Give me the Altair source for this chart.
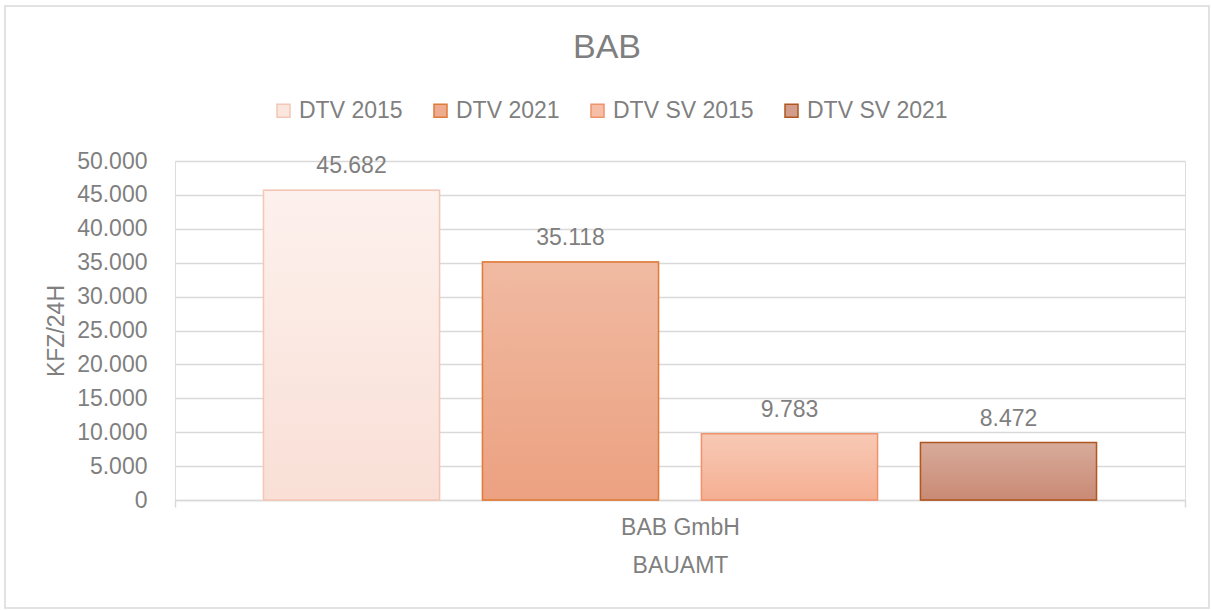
import altair as alt
import pandas as pd

# ---- data ----
series = ["DTV 2015", "DTV 2021", "DTV SV 2015", "DTV SV 2021"]
values = [45682, 35118, 9783, 8472]
category = ["BAB GmbH", "BAB GmbH", "BAB GmbH", "BAB GmbH"]
y_ticks = [0, 5000, 10000, 15000, 20000, 25000, 30000, 35000, 40000, 45000, 50000]

# ---- styles ----
legend_fill = ["#fbe6de", "#eeab8e", "#f6bea6", "#d29d8a"]
grad_top = ["#fdf1ed", "#f0baa2", "#f7c9b5", "#d8ab9a"]
grad_bottom = ["#f9dfd6", "#eca181", "#f5af93", "#c98a75"]
stroke_cols = ["#f4c6b6", "#e07b39", "#f0936c", "#b0561f"]

TXT = "#7f7f7f"
GRID = "#d9d9d9"
FONT = "Liberation Sans"
FS = 23

df = pd.DataFrame({"Kategorie": category, "Reihe": series, "Wert": values})

base = alt.Chart(df).encode(
    x=alt.X(
        "Kategorie:N",
        title="BAUAMT",
        scale=alt.Scale(paddingInner=0, paddingOuter=0),
        axis=alt.Axis(
            labelAngle=0,
            labelFontSize=FS,
            labelColor=TXT,
            labelFont=FONT,
            labelPadding=9,
            titleFontSize=FS,
            titleColor=TXT,
            titleFont=FONT,
            titleFontWeight="normal",
            titlePadding=15,
            domainColor=GRID,
            domainWidth=1.5,
            tickColor=GRID,
            tickWidth=1.5,
            tickSize=7,
            tickBand="extent",
            grid=False,
        ),
    ),
    xOffset=alt.XOffset(
        "Reihe:N",
        sort=series,
        scale=alt.Scale(paddingInner=0.196, paddingOuter=0.404),
    ),
    y=alt.Y(
        "Wert:Q",
        title="KFZ/24H",
        scale=alt.Scale(domain=[0, 50000], nice=False),
        axis=alt.Axis(
            values=y_ticks,
            labelExpr="replace(format(datum.value, ','), ',', '.')",
            labelFontSize=FS,
            labelColor=TXT,
            labelFont=FONT,
            labelPadding=28,
            titleFontSize=FS,
            titleColor=TXT,
            titleFont=FONT,
            titleFontWeight="normal",
            titlePadding=8,
            domain=False,
            ticks=False,
            gridColor=GRID,
            gridWidth=1.5,
        ),
    ),
)

legend_layer = base.mark_bar().encode(
    color=alt.Color(
        "Reihe:N",
        sort=series,
        scale=alt.Scale(domain=series, range=legend_fill),
        legend=alt.Legend(
            title=None,
            orient="none",
            direction="horizontal",
            legendX=97,
            legendY=-62,
            symbolType="square",
            symbolSize=169,
            symbolStrokeWidth=1.5,
            labelFontSize=FS,
            labelColor=TXT,
            labelFont=FONT,
            labelOffset=4,
            columnPadding=26,
        ),
    ),
    stroke=alt.Stroke(
        "Reihe:N",
        sort=series,
        scale=alt.Scale(domain=series, range=stroke_cols),
        legend=alt.Legend(title=None, orient="none", legendX=97, legendY=-62),
    ),
)

grad_layers = []
for s, t, b, sc in zip(series, grad_top, grad_bottom, stroke_cols):
    grad = alt.Gradient(
        gradient="linear",
        x1=0, y1=0, x2=0, y2=1,
        stops=[alt.GradientStop(offset=0, color=t), alt.GradientStop(offset=1, color=b)],
    )
    grad_layers.append(
        base.transform_filter(alt.datum.Reihe == s).mark_bar(
            fill=grad, stroke=sc, strokeWidth=1.5
        )
    )

labels = base.transform_calculate(
    label="replace(format(datum.Wert, ','), ',', '.')"
).mark_text(
    baseline="bottom", dy=-12, fontSize=FS, color=TXT, font=FONT
).encode(text="label:N")

frame = alt.Chart(alt.Data(values=[{"a": 1}])).mark_rect(
    fillOpacity=0, stroke=GRID, strokeWidth=1.5
).encode(
    x=alt.value(-170), x2=alt.value(1034), y=alt.value(-155), y2=alt.value(447)
)

chart = alt.layer(frame, legend_layer, *grad_layers, labels).properties(
    width=1010,
    height=339,
    padding={"left": 175, "top": 161, "right": 26, "bottom": 110},
    autosize=alt.AutoSizeParams(type="none"),
    title=alt.TitleParams(
        "BAB",
        fontSize=34,
        color=TXT,
        font=FONT,
        fontWeight="normal",
        anchor="middle",
        frame="bounds",
        offset=-60,
    ),
).configure_view(stroke=None).configure(background="white")

chart.save("out.html", embed_options={"renderer": "svg", "actions": False})
